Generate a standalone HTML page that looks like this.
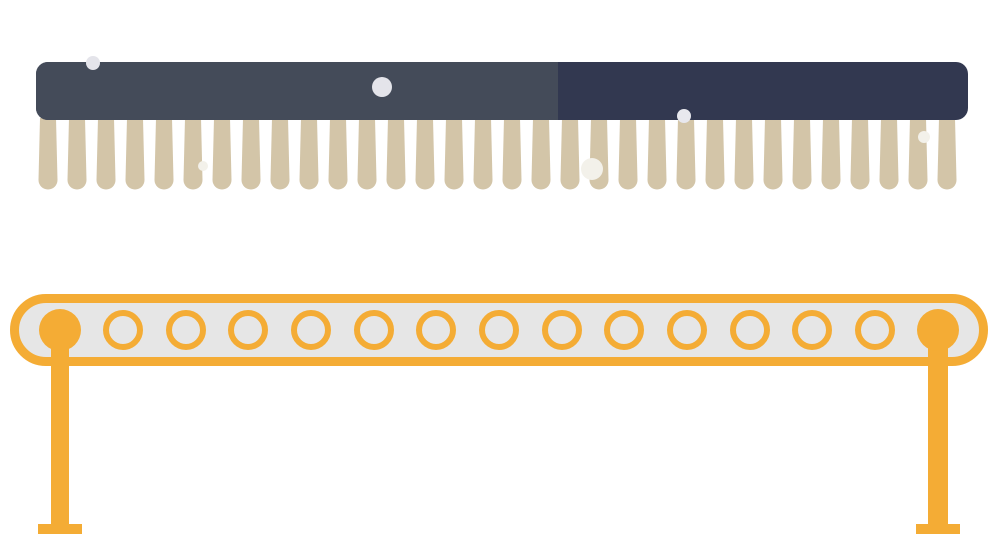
<!DOCTYPE html>
<html><head><meta charset="utf-8"><style>html,body{margin:0;padding:0;background:#fff}svg{display:block}</style></head>
<body>
<svg width="990" height="534" viewBox="0 0 990 534" xmlns="http://www.w3.org/2000/svg">
<defs>
<path id="t" d="M-8 118 L8 118 L9.5 180 A9.5 9.5 0 0 1 -9.5 180 Z" fill="#d3c5a8"/>
<circle id="r" r="17" fill="none" stroke="#f4ac35" stroke-width="6"/>
</defs>
<g>
<use href="#t" x="48"/><use href="#t" x="77"/><use href="#t" x="106"/><use href="#t" x="135"/>
<use href="#t" x="164"/><use href="#t" x="193"/><use href="#t" x="222"/><use href="#t" x="251"/>
<use href="#t" x="280"/><use href="#t" x="309"/><use href="#t" x="338"/><use href="#t" x="367"/>
<use href="#t" x="396"/><use href="#t" x="425"/><use href="#t" x="454"/><use href="#t" x="483"/>
<use href="#t" x="512"/><use href="#t" x="541"/><use href="#t" x="570"/><use href="#t" x="599"/>
<use href="#t" x="628"/><use href="#t" x="657"/><use href="#t" x="686"/><use href="#t" x="715"/>
<use href="#t" x="744"/><use href="#t" x="773"/><use href="#t" x="802"/><use href="#t" x="831"/>
<use href="#t" x="860"/><use href="#t" x="889"/><use href="#t" x="918"/><use href="#t" x="947"/>
</g>
<rect x="36" y="62" width="932" height="58" rx="12" fill="#323850"/>
<path d="M48 62 H558 V120 H48 A12 12 0 0 1 36 108 V74 A12 12 0 0 1 48 62 Z" fill="#444b59"/>
<circle cx="93" cy="63" r="7" fill="#e4e4ea"/>
<circle cx="382" cy="87" r="10" fill="#e4e4ea"/>
<circle cx="684" cy="116" r="7" fill="#e8e8ee"/>
<circle cx="592" cy="169" r="11" fill="#f3f1ea"/>
<circle cx="203" cy="166" r="5" fill="#f3f1ea"/>
<circle cx="924" cy="137" r="6" fill="#f3f1ea"/>

<rect x="51" y="330" width="18" height="196" fill="#f4ac35"/>
<rect x="38" y="524" width="44" height="10" fill="#f4ac35"/>
<rect x="928" y="330" width="20" height="196" fill="#f4ac35"/>
<rect x="916" y="524" width="44" height="10" fill="#f4ac35"/>
<rect x="14.5" y="298.5" width="969" height="63" rx="31.5" fill="#e6e6e6" stroke="#f4ac35" stroke-width="9"/>
<rect x="51" y="340" width="18" height="26" fill="#f4ac35"/>
<rect x="928" y="340" width="20" height="26" fill="#f4ac35"/>
<circle cx="60" cy="330" r="21" fill="#f4ac35"/>
<circle cx="938" cy="330" r="21" fill="#f4ac35"/>
<use href="#r" x="123" y="330"/><use href="#r" x="186" y="330"/><use href="#r" x="248" y="330"/>
<use href="#r" x="311" y="330"/><use href="#r" x="374" y="330"/><use href="#r" x="436" y="330"/>
<use href="#r" x="499" y="330"/><use href="#r" x="562" y="330"/><use href="#r" x="624" y="330"/>
<use href="#r" x="687" y="330"/><use href="#r" x="750" y="330"/><use href="#r" x="812" y="330"/>
<use href="#r" x="875" y="330"/>
</svg>
</body></html>
